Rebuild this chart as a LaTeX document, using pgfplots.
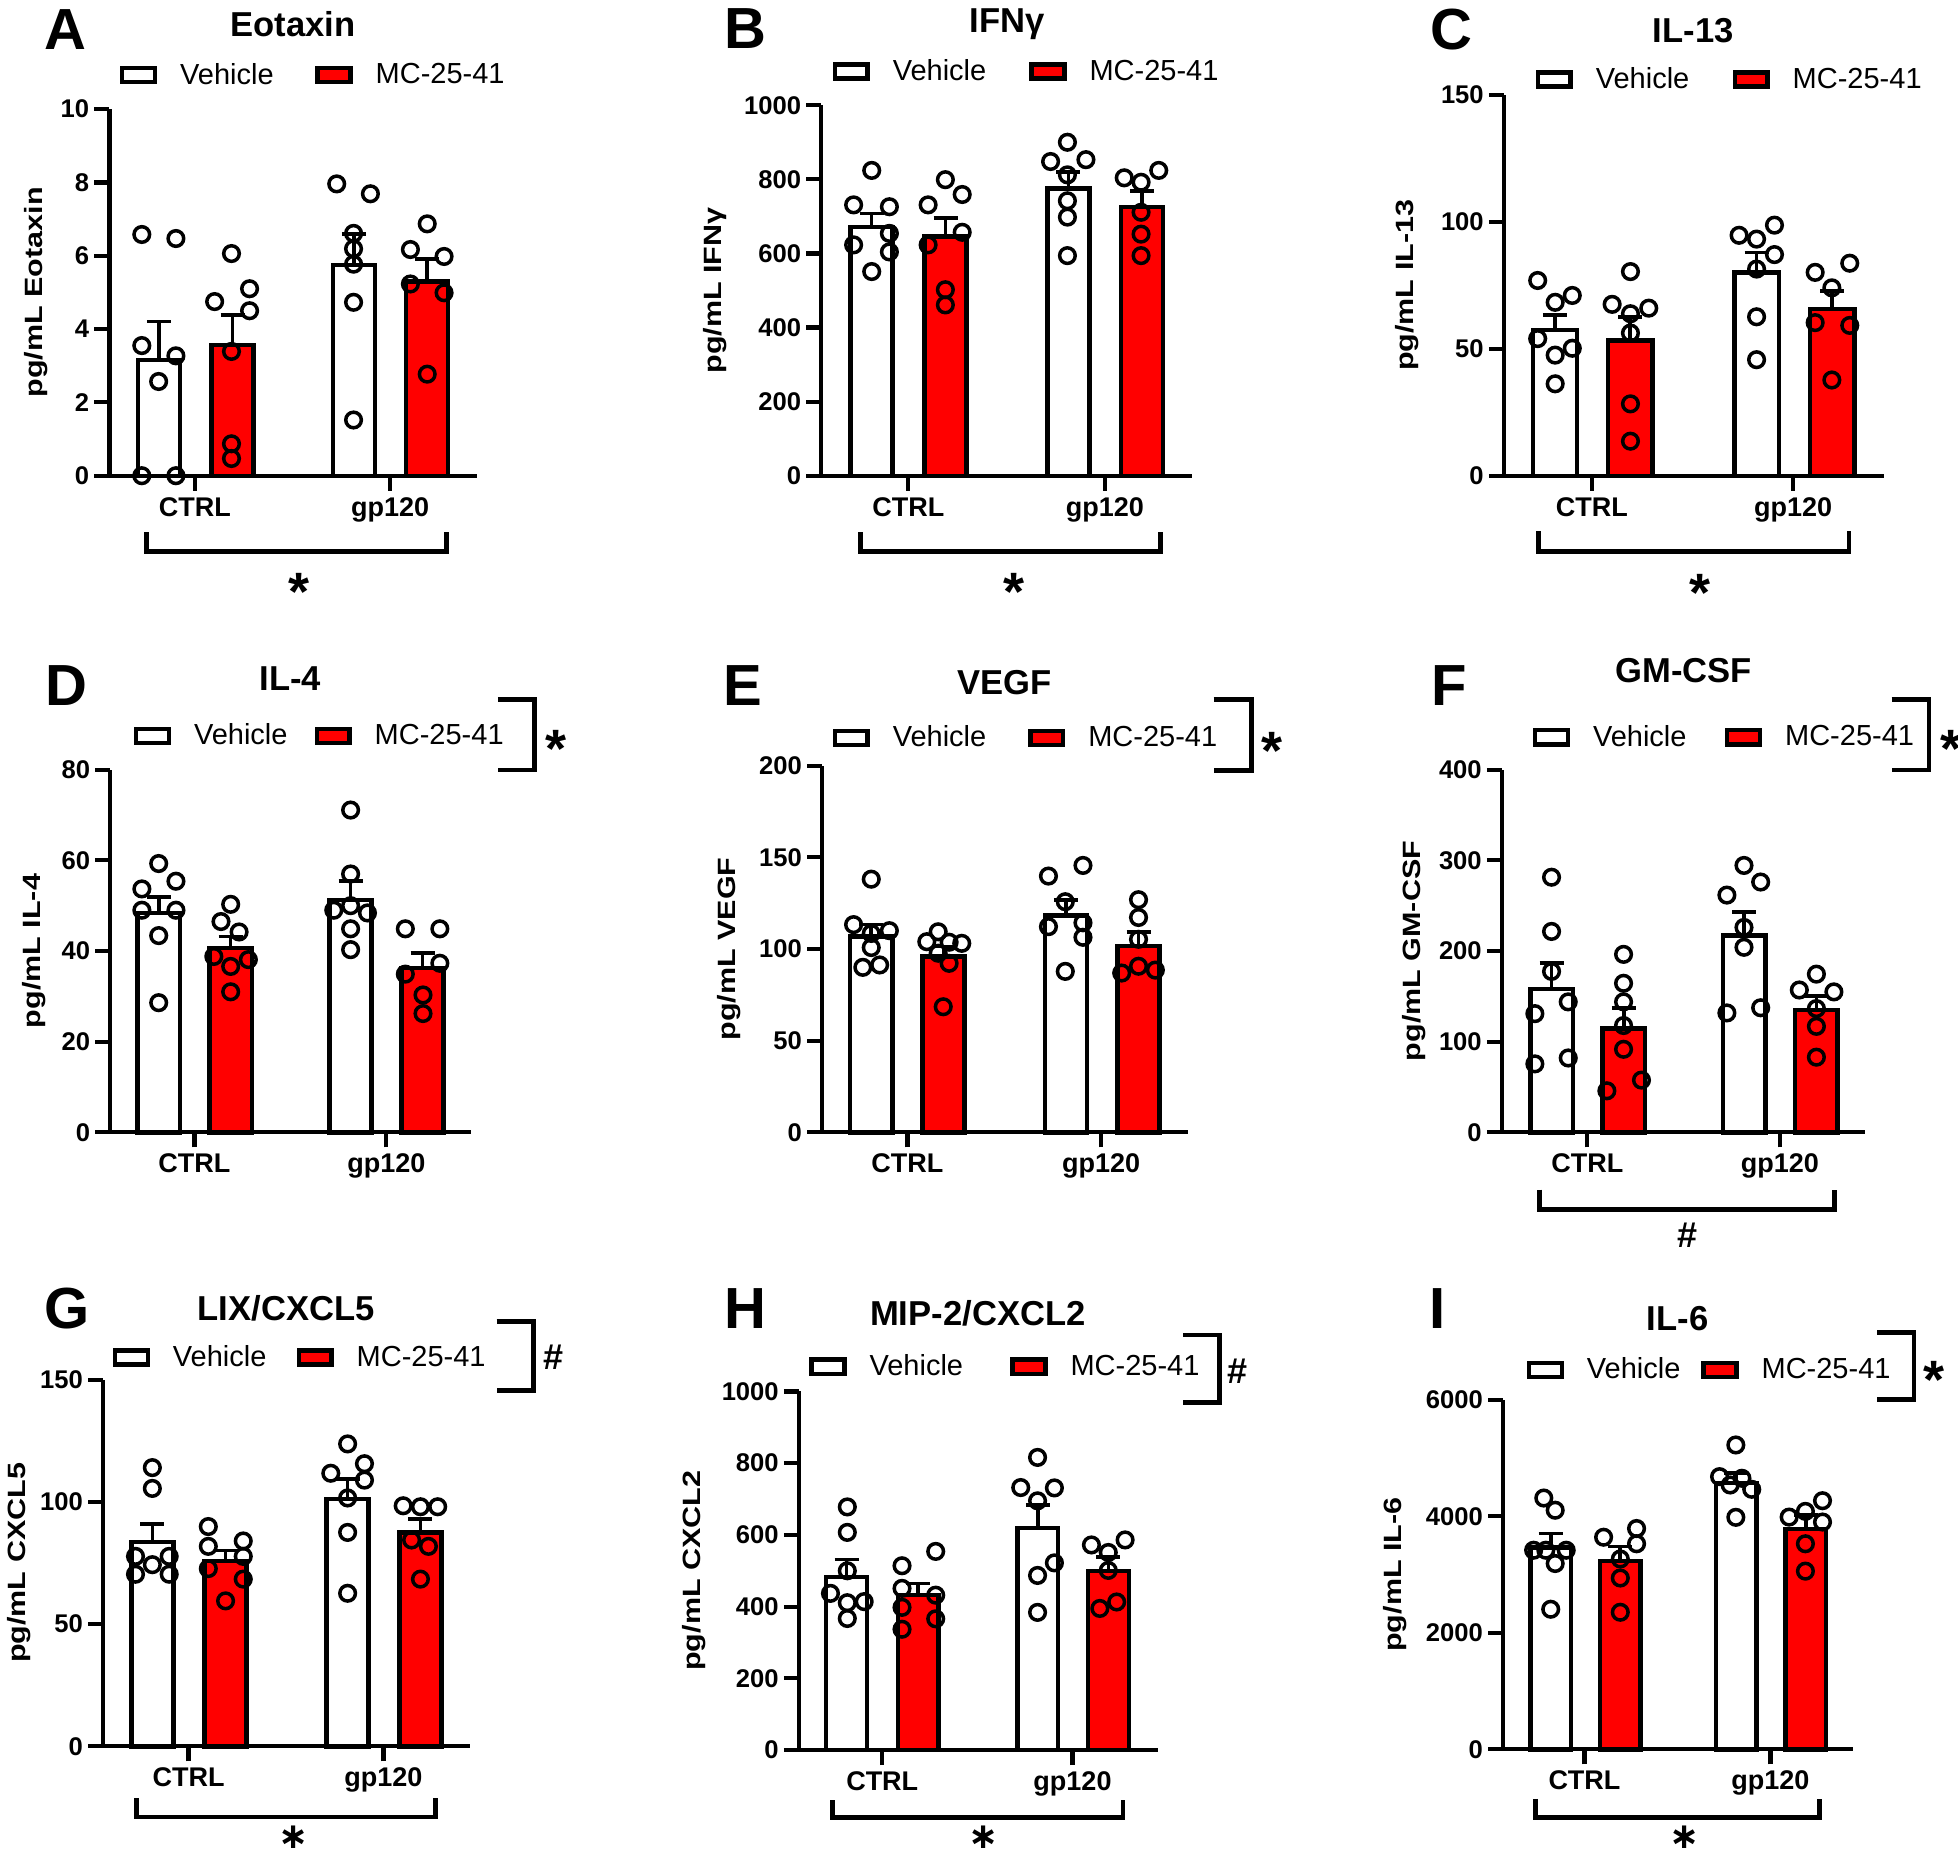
\documentclass[border=0pt]{standalone}
\usepackage{fontspec}
\setmainfont{Liberation Sans}
\newfontfamily\djv{DejaVu Sans}
\usepackage{graphicx}
\usepackage{pgfplots}
\pgfplotsset{compat=1.18}
\definecolor{barred}{RGB}{255,0,0}
\newcommand\tickfont{\bfseries\fontsize{12.8}{14}\selectfont}
\newcommand\catfont{\bfseries\fontsize{13.5}{15}\selectfont}
\newcommand\legfont{\fontsize{14.5}{16}\selectfont}
\newcommand\titlefont{\bfseries\fontsize{17.3}{19}\selectfont}
\newcommand\letterfont{\bfseries\fontsize{29}{31}\selectfont}
\newcommand\labfont{\bfseries\fontsize{12.5}{14}\selectfont}
\newcommand\starfont{\bfseries\fontsize{27}{29}\selectfont}
\newcommand\hashfont{\bfseries\fontsize{18}{20}\selectfont}
\pgfplotsset{
  panel/.style={
    scale only axis, clip=false, axis lines=left,
    axis line style={-, line width=2.1pt, black},
    major tick style={line width=2.1pt, black},
    tick align=outside, major tick length=7.5pt,
    ymin=0, anchor=south west,
    /pgf/number format/assume math mode=true,
    /pgf/number format/1000 sep={},
    scaled y ticks=false,
    yticklabel style={font=\tickfont, inner sep=0pt, xshift=-2.4pt},
    xticklabel style={font=\catfont, inner sep=0pt, yshift=-3.1pt},
    xticklabels={CTRL,gp120},
    every axis y label/.style={rotate=90, anchor=center, font=\labfont, inner sep=0pt},
    legend cell align=left,
    legend columns=2,
    legend style={draw=none, fill=none, anchor=west, inner sep=0pt, outer sep=0pt,
      font=\legfont, nodes={inner sep=0pt},
      /tikz/every odd column/.append style={column sep=11.5pt}},
  },
  vbar/.style={ybar, bar shift=0pt, fill=white, draw=black, line width=2.2pt,
    legend image code/.code={\draw[##1] (0pt,-3.55pt) rectangle (16.4pt,3.55pt);},
    error bars/.cd, y dir=plus, y explicit,
    error bar style={line width=1.8pt, black},
    error mark options={rotate=90, mark size=6pt, line width=1.8pt, black}},
  rbar/.style={ybar, bar shift=0pt, fill=barred, draw=black, line width=2.2pt,
    legend image code/.code={\draw[##1] (0pt,-3.55pt) rectangle (16.4pt,3.55pt);},
    error bars/.cd, y dir=plus, y explicit,
    error bar style={line width=1.8pt, black},
    error mark options={rotate=90, mark size=6pt, line width=1.8pt, black}},
  pts/.style={only marks, mark=o, mark size=3.9pt,
    mark options={line width=1.75pt, draw=black, fill=none, solid}, forget plot},
}
\tikzset{
  letter/.style={font=\letterfont, anchor=base, inner sep=0pt},
  ttl/.style={font=\titlefont, anchor=base, inner sep=0pt},
  star/.style={font=\starfont, anchor=base, inner sep=0pt, yshift=-15.1pt},
  lowstar/.style={font=\djv\bfseries\fontsize{18}{20}\selectfont, anchor=base, inner sep=0pt},
  hash/.style={font=\hashfont, anchor=base, inner sep=0pt, yshift=-6.3pt},
  brk/.style={line width=2.4pt, black},
}
\begin{document}
\begin{tikzpicture}
\useasboundingbox (0pt,0pt) rectangle (979pt,-928.5pt);

% ---------------- A Eotaxin
\begin{axis}[panel, at={(54.7pt,-237.85pt)}, width=183.75pt, height=183.3pt,
  xmin=260, xmax=1133, ymax=10, ytick={0,2,4,6,8,10}, xtick={463,927}, bar width=100,
  legend style={at={(0.0288,1.093)}, /tikz/every even column/.append style={column sep=20.9pt}},
  ylabel={\scalebox{1.22}[1]{pg/mL Eotaxin}}, ylabel style={at={(axis description cs:-0.2003,0.5)}}]
\addplot[vbar] coordinates {(377.5,3.16) +- (0,1.05) (841,5.75) +- (0,0.85)};
\addlegendentry{Vehicle}
\addplot[rbar] coordinates {(552.5,3.56) +- (0,0.83) (1015,5.30) +- (0,0.61)};
\addlegendentry{MC-25-41}
\addplot[pts] coordinates {(337,6.58) (418,6.47) (337,3.55) (418,3.27) (377,2.57) (337,0) (418,0)
  (800,7.96) (880,7.69) (840,6.61) (840,6.19) (840,5.77) (840,4.73) (840,1.52)};
\addplot[pts] coordinates {(550,6.06) (593,5.10) (510,4.75) (593,4.50) (550,3.39) (550,0.87) (550,0.47)
  (1015,6.87) (975,6.17) (1055,5.98) (975,5.23) (1055,4.99) (1015,2.77)};
\end{axis}

% ---------------- B IFNg
\begin{axis}[panel, at={(410.6pt,-237.85pt)}, width=185.6pt, height=185.25pt,
  xmin=383, xmax=1265, ymax=1000, ytick={0,200,400,600,800,1000}, xtick={590,1057}, bar width=100,
  legend style={at={(0.0307,1.0912)}, /tikz/every even column/.append style={column sep=21.5pt}},
  ylabel={\scalebox{1.22}[1]{pg/mL IFNγ}}, ylabel style={at={(axis description cs:-0.2869,0.5)}}]
\addplot[vbar] coordinates {(502.5,671) +- (0,37) (970.5,775) +- (0,44)};
\addlegendentry{Vehicle}
\addplot[rbar] coordinates {(678.5,646) +- (0,49) (1145,726) +- (0,42)};
\addlegendentry{MC-25-41}
\addplot[pts] coordinates {(503,824) (460,731) (545,726) (545,654) (460,623) (545,604) (503,551)
  (968,900) (928,848) (1012,853) (968,812) (968,742) (968,698) (968,594)};
\addplot[pts] coordinates {(678,799) (718,759) (637,731) (718,657) (637,623) (678,502) (678,461)
  (1185,824) (1103,804) (1143,792) (1143,711) (1143,652) (1143,594)};
\end{axis}

% ---------------- C IL-13
\begin{axis}[panel, at={(751.95pt,-237.85pt)}, width=189.8pt, height=190.4pt,
  xmin=452, xmax=1385, ymax=150, ytick={0,50,100,150}, xtick={668,1163}, bar width=109,
  legend style={at={(0.0835,1.0407)}, /tikz/every even column/.append style={column sep=21.6pt}},
  ylabel={\scalebox{1.22}[1]{pg/mL IL-13}}, ylabel style={at={(axis description cs:-0.254,0.5)}}]
\addplot[vbar] coordinates {(577.5,57.4) +- (0,5.9) (1073,80.1) +- (0,7.8)};
\addlegendentry{Vehicle}
\addplot[rbar] coordinates {(762.5,53.2) +- (0,9.4) (1259,65.6) +- (0,7.2)};
\addlegendentry{MC-25-41}
\addplot[pts] coordinates {(535,76.9) (578,68.3) (620,71.0) (535,54.0) (620,50.2) (578,47.5) (578,36.2)
  (1117,98.7) (1030,94.7) (1073,93.2) (1117,87.1) (1073,81.4) (1073,62.6) (1073,45.7)};
\addplot[pts] coordinates {(763,80.4) (718,67.5) (808,66.0) (763,63.8) (763,56.2) (763,28.3) (763,13.6)
  (1302,83.7) (1217,80.1) (1258,74.0) (1217,60.3) (1302,59.2) (1258,37.7)};
\end{axis}

% ---------------- D IL-4
\begin{axis}[panel, at={(55.15pt,-566.15pt)}, width=180.55pt, height=181.3pt,
  xmin=262, xmax=1120, ymax=80, ytick={0,20,40,60,80}, xtick={462,918}, bar width=100,
  legend style={at={(0.0651,1.0932)}, /tikz/every even column/.append style={column sep=13.5pt}},
  ylabel={\scalebox{1.22}[1]{pg/mL IL-4}}, ylabel style={at={(axis description cs:-0.2121,0.5)}}]
\addplot[vbar] coordinates {(377,48.4) +- (0,3.5) (833,51.3) +- (0,4.1)};
\addlegendentry{Vehicle}
\addplot[rbar] coordinates {(548,40.6) +- (0,2.6) (1004,36.2) +- (0,3.3)};
\addlegendentry{MC-25-41}
\addplot[pts] coordinates {(377,59.3) (418,55.4) (337,53.7) (337,49.0) (418,49.0) (377,43.4) (377,28.6)
  (833,71.1) (833,57.0) (833,50.0) (793,49.0) (873,48.4) (833,44.9) (833,40.3)};
\addplot[pts] coordinates {(548,50.3) (525,46.5) (568,44.2) (508,38.8) (590,38.1) (548,36.6) (548,31.0)
  (963,44.9) (1045,44.9) (1045,37.3) (963,34.9) (1005,30.3) (1005,26.2)};
\end{axis}

% ---------------- E VEGF
\begin{axis}[panel, at={(411pt,-566.15pt)}, width=183.1pt, height=183.3pt,
  xmin=385, xmax=1255, ymax=200, ytick={0,50,100,150,200}, xtick={588,1048}, bar width=100,
  legend style={at={(0.0289,1.0758)}, /tikz/every even column/.append style={column sep=20.9pt}},
  ylabel={\scalebox{1.22}[1]{pg/mL VEGF}}, ylabel style={at={(axis description cs:-0.2529,0.5)}}]
\addplot[vbar] coordinates {(502,106.8) +- (0,6.5) (964.5,118.2) +- (0,8.4)};
\addlegendentry{Vehicle}
\addplot[rbar] coordinates {(674,96.0) +- (0,5.4) (1137,101.8) +- (0,7.6)};
\addlegendentry{MC-25-41}
\addplot[pts] coordinates {(502,138.1) (460,113.3) (545,110.0) (502,108.5) (502,100.8) (482,90.0) (522,91.3)
  (1005,145.6) (923,139.8) (963,125.8) (923,112.2) (1005,114.3) (1005,106.4) (963,87.8)};
\addplot[pts] coordinates {(661,109.4) (634,104.0) (687,103.7) (717,103.1) (661,97.7) (687,92.2) (673,68.5)
  (1137,126.9) (1137,117.2) (1137,105.3) (1097,86.9) (1137,90.6) (1177,88.5)};
\end{axis}

% ---------------- F GM-CSF
\begin{axis}[panel, at={(750.95pt,-566.15pt)}, width=181.65pt, height=181.3pt,
  xmin=447, xmax=1340, ymax=400, ytick={0,100,200,300,400}, xtick={657,1130}, bar width=104,
  legend style={at={(0.0851,1.0894)}, /tikz/every even column/.append style={column sep=19.2pt}},
  ylabel={\scalebox{1.22}[1]{pg/mL GM-CSF}}, ylabel style={at={(axis description cs:-0.243,0.5)}}]
\addplot[vbar] coordinates {(569,157.9) +- (0,28.8) (1042.5,217.2) +- (0,25.8)};
\addlegendentry{Vehicle}
\addplot[rbar] coordinates {(746.5,114.7) +- (0,22.7) (1220,135.2) +- (0,15.3)};
\addlegendentry{MC-25-41}
\addplot[pts] coordinates {(569,281.4) (569,221.6) (569,177.5) (610,143.9) (528,130.9) (610,82.0) (528,75.5)
  (1042,294.4) (1083,276.1) (1000,261.7) (1042,226.0) (1042,204.1) (1000,131.7) (1083,137.4)};
\addplot[pts] coordinates {(746,196.3) (746,164.4) (746,143.9) (746,117.8) (746,91.6) (790,57.6) (705,45.8)
  (1220,174.5) (1178,157.0) (1263,154.9) (1220,136.5) (1220,116.9) (1220,82.9)};
\end{axis}

% ---------------- G LIX/CXCL5
\begin{axis}[panel, at={(51.55pt,-873.15pt)}, width=183.5pt, height=183.35pt,
  xmin=245, xmax=1117, ymax=150, ytick={0,50,100,150}, xtick={448,911}, bar width=100,
  legend style={at={(0.0264,1.0605)}, /tikz/every even column/.append style={column sep=15pt}},
  ylabel={\scalebox{1.22}[1]{pg/mL CXCL5}}, ylabel style={at={(axis description cs:-0.2294,0.5)}}]
\addplot[vbar] coordinates {(362,83.6) +- (0,7.4) (826,101.2) +- (0,8.1)};
\addlegendentry{Vehicle}
\addplot[rbar] coordinates {(536,75.9) +- (0,4.2) (999,87.5) +- (0,5.5)};
\addlegendentry{MC-25-41}
\addplot[pts] coordinates {(362,114.0) (362,105.5) (322,77.7) (402,77.7) (362,74.3) (322,70.4) (402,70.4)
  (826,123.7) (866,115.6) (786,111.7) (866,108.9) (826,101.6) (826,87.5) (826,62.6)};
\addplot[pts] coordinates {(495,89.9) (495,81.8) (578,84.0) (578,77.7) (495,72.7) (578,68.4) (536,59.5)
  (958,98.4) (999,98.0) (1040,98.0) (978,84.4) (1018,81.8) (999,68.4)};
\end{axis}

% ---------------- H MIP-2/CXCL2
\begin{axis}[panel, at={(399.45pt,-875.05pt)}, width=179.3pt, height=179.35pt,
  xmin=330, xmax=1182, ymax=1000, ytick={0,200,400,600,800,1000}, xtick={528,980}, bar width=97,
  legend style={at={(0.0293,1.0691)}, /tikz/every even column/.append style={column sep=23.6pt}},
  ylabel={\scalebox{1.22}[1]{pg/mL CXCL2}}, ylabel style={at={(axis description cs:-0.2934,0.5)}}]
\addplot[vbar] coordinates {(443.5,483) +- (0,48) (897.5,620) +- (0,64)};
\addlegendentry{Vehicle}
\addplot[rbar] coordinates {(613.5,432) +- (0,32) (1065.5,499) +- (0,39)};
\addlegendentry{MC-25-41}
\addplot[pts] coordinates {(445,678) (445,607) (445,500) (405,437) (445,411) (485,414) (445,367)
  (897,816) (857,732) (937,731) (897,695) (937,522) (897,487) (897,384)};
\addplot[pts] coordinates {(655,554) (575,514) (575,451) (655,432) (575,398) (655,366) (575,337)
  (1105,586) (1025,572) (1065,551) (1065,501) (1085,413) (1045,395)};
\end{axis}

% ---------------- I IL-6
\begin{axis}[panel, at={(751.55pt,-874.65pt)}, width=174.95pt, height=174.75pt,
  xmin=450, xmax=1310, ymax=6000, ytick={0,2000,4000,6000}, xtick={650,1107}, bar width=100,
  legend style={at={(0.0674,1.0856)}, /tikz/every even column/.append style={column sep=10.5pt}},
  ylabel={\scalebox{1.22}[1]{pg/mL IL-6}}, ylabel style={at={(axis description cs:-0.3081,0.5)}}]
\addplot[vbar] coordinates {(567,3464) +- (0,242) (1022.5,4567) +- (0,172)};
\addlegendentry{Vehicle}
\addplot[rbar] coordinates {(738,3235) +- (0,249) (1194,3778) +- (0,242)};
\addlegendentry{MC-25-41}
\addplot[pts] coordinates {(550,4314) (578,4105) (525,3418) (555,3418) (605,3418) (578,3190) (567,2405)
  (1022,5225) (982,4681) (1008,4538) (1037,4653) (1061,4464) (1022,3983)};
\addplot[pts] coordinates {(778,3791) (697,3641) (778,3529) (738,3268) (738,2941) (738,2353)
  (1235,4268) (1193,4085) (1153,3987) (1235,3902) (1193,3529) (1193,3059)};
\end{axis}

% ---------------- panel letters and titles
\node[letter] at (32.8pt,-24.9pt) {A};
\node[letter] at (372.6pt,-24.5pt) {B};
\node[letter] at (725.8pt,-24.9pt) {C};
\node[letter] at (33pt,-352.6pt) {D};
\node[letter] at (371.6pt,-352.6pt) {E};
\node[letter] at (724.4pt,-352.6pt) {F};
\node[letter] at (33.65pt,-664.25pt) {G};
\node[letter] at (372.6pt,-664.25pt) {H};
\node[letter] at (719pt,-664.25pt) {I};
\node[ttl] at (146.45pt,-18.2pt) {Eotaxin};
\node[ttl] at (503.6pt,-16.25pt) {IFNγ};
\node[ttl] at (846.65pt,-21.05pt) {IL-13};
\node[ttl] at (145.2pt,-345.3pt) {IL-4};
\node[ttl] at (502.45pt,-347.1pt) {VEGF};
\node[ttl] at (841.75pt,-341.35pt) {GM-CSF};
\node[ttl] at (143.1pt,-660.45pt) {LIX/CXCL5};
\node[ttl] at (488.9pt,-662.75pt) {MIP-2/CXCL2};
\node[ttl] at (838.8pt,-665.2pt) {IL-6};

% ---------------- bottom brackets
\draw[brk] (73.25pt,-266pt) -- (73.25pt,-275.55pt) -- (223.05pt,-275.55pt) -- (223.05pt,-266pt);
\node[star] at (149.4pt,-289.9pt) {*};
\draw[brk] (430.15pt,-266pt) -- (430.15pt,-275.55pt) -- (580.4pt,-275.55pt) -- (580.4pt,-266pt);
\node[star] at (506.75pt,-289.9pt) {*};
\draw[brk] (769.25pt,-265.6pt) -- (769.25pt,-275.55pt) -- (924.45pt,-275.55pt) -- (924.45pt,-265.6pt);
\node[star] at (850.2pt,-290.85pt) {*};
\draw[brk] (769.85pt,-594.8pt) -- (769.85pt,-604.7pt) -- (917.3pt,-604.7pt) -- (917.3pt,-594.8pt);
\node[hash] at (843.7pt,-617.55pt) {\#};
\draw[brk] (68.4pt,-899pt) -- (68.4pt,-908.5pt) -- (217.8pt,-908.5pt) -- (217.8pt,-899pt);
\node[lowstar] at (146.7pt,-924.2pt) {∗};
\draw[brk] (416.3pt,-900pt) -- (416.3pt,-908.9pt) -- (561.5pt,-908.9pt) -- (561.5pt,-900pt);
\node[lowstar] at (491.6pt,-924.2pt) {∗};
\draw[brk] (767.8pt,-899.4pt) -- (767.8pt,-908.9pt) -- (909.8pt,-908.9pt) -- (909.8pt,-899.4pt);
\node[lowstar] at (842.05pt,-924.2pt) {∗};

% ---------------- right brackets
\draw[brk] (248.95pt,-349.9pt) -- (267.25pt,-349.9pt) -- (267.25pt,-385pt) -- (248.95pt,-385pt);
\node[star] at (277.8pt,-368.45pt) {*};
\draw[brk] (606.75pt,-349.9pt) -- (625.65pt,-349.9pt) -- (625.65pt,-385.4pt) -- (606.75pt,-385.4pt);
\node[star] at (636.2pt,-369.45pt) {*};
\draw[brk] (945.8pt,-349.9pt) -- (964.5pt,-349.9pt) -- (964.5pt,-385pt) -- (945.8pt,-385pt);
\node[star] at (975.3pt,-368.45pt) {*};
\draw[brk] (248.3pt,-660.75pt) -- (266.85pt,-660.75pt) -- (266.85pt,-695.4pt) -- (248.3pt,-695.4pt);
\node[hash] at (276.75pt,-678.55pt) {\#};
\draw[brk] (591.55pt,-667.45pt) -- (609.9pt,-667.45pt) -- (609.9pt,-701.1pt) -- (591.55pt,-701.1pt);
\node[hash] at (618.7pt,-685.2pt) {\#};
\draw[brk] (938.7pt,-666.1pt) -- (957pt,-666.1pt) -- (957pt,-699.6pt) -- (938.7pt,-699.6pt);
\node[star] at (967.15pt,-684.25pt) {*};
\end{tikzpicture}
\end{document}
